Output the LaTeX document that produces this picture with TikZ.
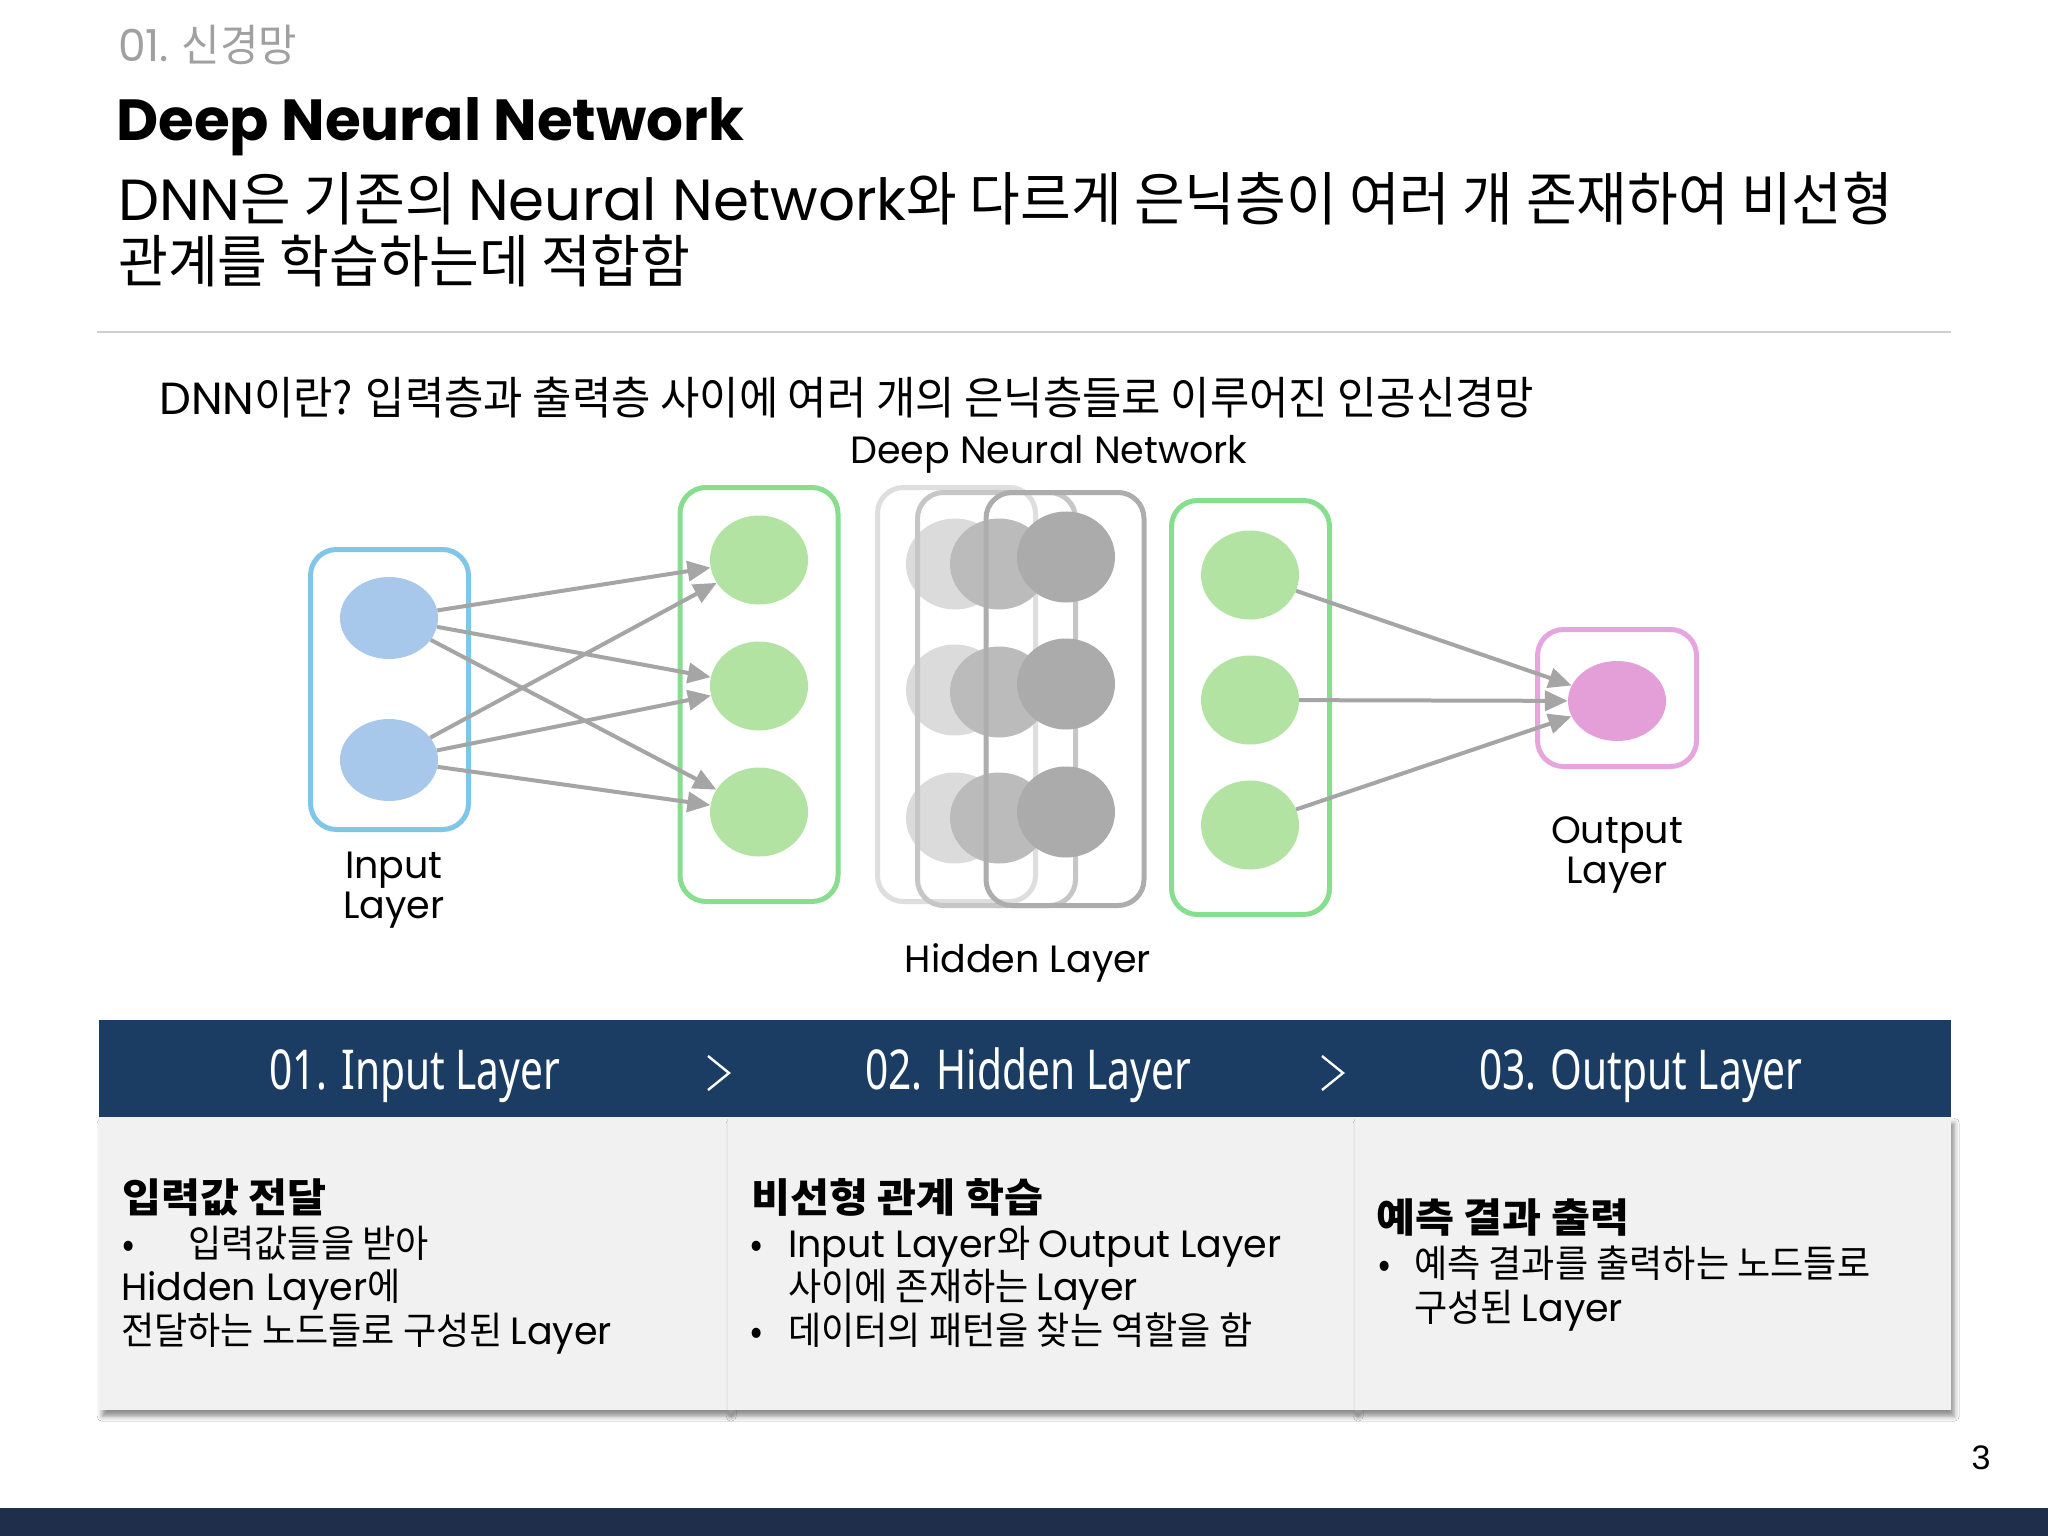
\documentclass[tikz,border=0pt]{standalone}
\usepackage{fontspec}
\setmainfont[FakeStretch=0.95]{Noto Sans CJK KR}
\newfontfamily\krh[FakeStretch=1.06]{Noto Sans CJK KR}
\newfontfamily\lat{Poppins}
\newfontfamily\cond[FakeStretch=0.74]{Noto Sans}
\newfontfamily\arialf{Liberation Sans}
\usetikzlibrary{shapes.geometric,arrows.meta,shadows.blur}
\newcommand\en[1]{{\lat #1}}
\newcommand\fsz[1]{\fontsize{#1}{#1}\selectfont}
\definecolor{navy}{HTML}{1B3D64}
\definecolor{footnavy}{HTML}{1F2E4B}
\definecolor{secgray}{HTML}{A0A0A0}
\definecolor{rulegray}{HTML}{D0D0D0}
\definecolor{bluebox}{HTML}{7FC6E8}
\definecolor{bluenode}{HTML}{A7C8EA}
\definecolor{greenbox}{HTML}{86DE8E}
\definecolor{greennode}{HTML}{B3E3A2}
\definecolor{pinkbox}{HTML}{E6A5DE}
\definecolor{pinknode}{HTML}{E49FD9}
\definecolor{hboxa}{HTML}{DEDEDE}
\definecolor{hnodea}{HTML}{DBDBDB}
\definecolor{hboxb}{HTML}{C6C6C6}
\definecolor{hnodeb}{HTML}{BBBBBB}
\definecolor{hboxc}{HTML}{ADADAD}
\definecolor{hnodec}{HTML}{ABABAB}
\definecolor{arrowgray}{HTML}{A5A5A5}
\definecolor{lightline}{HTML}{D7D7D7}
\definecolor{panelfill}{HTML}{F1F1F1}
\pgfdeclarelayer{bg}
\pgfsetlayers{bg,main}
\tikzset{
  layerbox/.style={draw, line width=5pt, rounded corners=26pt, inner sep=0pt, minimum width=158pt},
  neuron/.style={ellipse, inner sep=0pt, minimum width=98pt, minimum height=89pt},
  arr/.style={draw=arrowgray, line width=4pt, -{Triangle[length=23pt,width=20pt]}},
  conn/.style={draw=lightline, line width=3.8pt},
  lbl/.style={font=\lat\fsz{38}, inner sep=0pt, anchor=base},
  txt/.style={anchor=base west, inner sep=0pt},
  panel/.style={fill=panelfill, anchor=north west, inner sep=0pt, minimum height=293pt,
     blur shadow={shadow xshift=3pt, shadow yshift=-6pt, shadow blur radius=5pt, shadow opacity=45}},
  tab/.style={anchor=base, inner sep=0pt, text=white, font=\cond\fsz{55}},
  head/.style={txt, font=\krh\bfseries\fsz{40}},
  body/.style={txt, font=\fsz{38}}
}
\begin{document}
\begin{tikzpicture}[x=1pt,y=-1pt]
\useasboundingbox (0,0) rectangle (2048,1536);
\fill[white] (0,0) rectangle (2048,1536);

% ---------- header ----------
\node[txt, text=secgray, font=\fsz{44}] (sec) at (118,62) {{\lat\fsz{44}01.} 신경망};
\node[txt, font=\lat\bfseries\fsz{58}] (title) at (116,141) {Deep Neural Network};
\node[txt, font=\fsz{58}] (line1) at (118,220) {\en{DNN}은 기존의 \en{Neural Network}와 다르게 은닉층이 여러 개 존재하여 비선형};
\node[txt, font=\fsz{57}] (line2) at (118,282) {관계를 학습하는데 적합함};
\draw[rulegray, line width=2.5pt] (97,332) -- (1951,332);

\node[txt, font=\fsz{45}] (intro) at (159,414) {\en{DNN}이란? 입력층과 출력층 사이에 여러 개의 은닉층들로 이루어진 인공신경망};
\node[lbl] (dnnlbl) at (1049,463) {Deep Neural Network};

% ---------- input layer ----------
\node[layerbox, draw=bluebox, minimum height=280pt] (inbox) at (389.5,689.5) {};
\node[neuron, fill=bluenode, minimum height=82pt] (i1) at (389,618) {};
\node[neuron, fill=bluenode, minimum height=82pt] (i2) at (389,760) {};
\node[lbl] (inlbl1) at (394,878) {Input};
\node[lbl] (inlbl2) at (394,918) {Layer};

% ---------- first hidden (green) ----------
\node[layerbox, draw=greenbox, minimum height=414pt] (g1box) at (759,694.5) {};
\node[neuron, fill=greennode] (ga1) at (759,560) {};
\node[neuron, fill=greennode] (ga2) at (759,686) {};
\node[neuron, fill=greennode] (ga3) at (759,812) {};

% ---------- deep hidden stack ----------
\node[layerbox, draw=hboxa, minimum height=414pt] (hbox1) at (956.5,694.5) {};
\node[neuron, fill=hnodea, minimum height=91pt] (ha1) at (955,564) {};
\node[neuron, fill=hnodea, minimum height=91pt] (ha2) at (955,690) {};
\node[neuron, fill=hnodea, minimum height=91pt] (ha3) at (955,818) {};
\node[layerbox, draw=hboxb, minimum height=413pt] (hbox2) at (996.5,699) {};
\node[neuron, fill=hnodeb, minimum height=91pt] (hb1) at (999,564) {};
\node[neuron, fill=hnodeb, minimum height=91pt] (hb2) at (999,692) {};
\node[neuron, fill=hnodeb, minimum height=91pt] (hb3) at (999,818) {};
\node[layerbox, draw=hboxc, minimum height=413pt] (hbox3) at (1065,699) {};
\node[neuron, fill=hnodec, minimum height=91pt] (hc1) at (1066,557) {};
\node[neuron, fill=hnodec, minimum height=91pt] (hc2) at (1066,684) {};
\node[neuron, fill=hnodec, minimum height=91pt] (hc3) at (1066,812) {};

% ---------- last hidden (green) ----------
\node[layerbox, draw=greenbox, minimum height=414pt] (g2box) at (1250.5,707.5) {};
\node[neuron, fill=greennode] (gb1) at (1250,575) {};
\node[neuron, fill=greennode] (gb2) at (1250,700) {};
\node[neuron, fill=greennode] (gb3) at (1250,825) {};

% ---------- output ----------
\node[layerbox, draw=pinkbox, minimum width=159pt, minimum height=137pt] (outbox) at (1617,698) {};
\node[neuron, fill=pinknode, minimum height=80pt] (o1) at (1617,701) {};
\node[lbl] (outlbl1) at (1617,843) {Output};
\node[lbl] (outlbl2) at (1617,883) {Layer};

\node[lbl] (hidlbl) at (1028,972) {Hidden Layer};

% ---------- light connections ----------
\begin{pgfonlayer}{bg}
\foreach \s in {ga1,ga2,ga3}{
  \foreach \t in {ha1,ha2,ha3}{
    \draw[conn] (\s.center) -- (\t.center);
  }
}
\foreach \s in {hc1,hc2,hc3}{
  \foreach \t in {gb1,gb2,gb3}{
    \draw[conn] (\s.center) -- (\t.center);
  }
}
\end{pgfonlayer}

% ---------- arrows ----------
\foreach \s in {i1,i2}{
  \foreach \t in {ga1,ga2,ga3}{
    \draw[arr] (\s) -- (\t);
  }
}
\foreach \s in {gb1,gb2,gb3}{
  \draw[arr] (\s) -- (o1);
}

% ---------- bottom panels ----------
\node[panel, minimum width=629pt] (pan1) at (99,1117) {};
\node[panel, minimum width=627pt] (pan2) at (728,1117) {};
\node[panel, minimum width=596pt] (pan3) at (1355,1117) {};
\node[fill=navy, anchor=north west, inner sep=0pt, minimum width=1852pt, minimum height=97pt] (bar) at (99,1020) {};

\node[tab] (tab1) at (415,1089) {01. Input Layer};
\node[tab] (tab2) at (1028,1089) {02. Hidden Layer};
\node[tab] (tab3) at (1641,1089) {03. Output Layer};
\draw[white, line width=2.4pt] (708,1056) -- (729,1073) -- (708,1090);
\draw[white, line width=2.4pt] (1322,1056) -- (1343,1073) -- (1322,1090);

% panel 1
\node[head] (p1h) at (122,1212) {입력값 전달};
\node[body] (p1b) at (122,1257) {•};
\node[body] (p1bt) at (188,1257) {입력값들을 받아};
\node[body] (p1c) at (121,1300) {\en{Hidden Layer}에};
\node[body] (p1d) at (121,1344) {전달하는 노드들로 구성된 \en{Layer}};

% panel 2
\node[head] (p2h) at (751,1212) {비선형 관계 학습};
\node[body] (p2b) at (750,1257) {•};
\node[body] (p2c) at (788,1257) {\en{Input Layer}와 \en{Output Layer}};
\node[body] (p2d) at (788,1300) {사이에 존재하는 \en{Layer}};
\node[body] (p2e) at (750,1344) {•};
\node[body] (p2f) at (788,1344) {데이터의 패턴을 찾는 역할을 함};

% panel 3
\node[head] (p3h) at (1376,1232) {예측 결과 출력};
\node[body] (p3b) at (1378,1277) {•};
\node[body] (p3c) at (1414,1277) {예측 결과를 출력하는 노드들로};
\node[body] (p3d) at (1414,1321) {구성된 \en{Layer}};

% footer
\fill[footnavy] (0,1508) rectangle (2048,1536);
\node[anchor=base, inner sep=0pt, font=\arialf\fsz{34}] (pagenum) at (1981,1469) {3};
\end{tikzpicture}
\end{document}
